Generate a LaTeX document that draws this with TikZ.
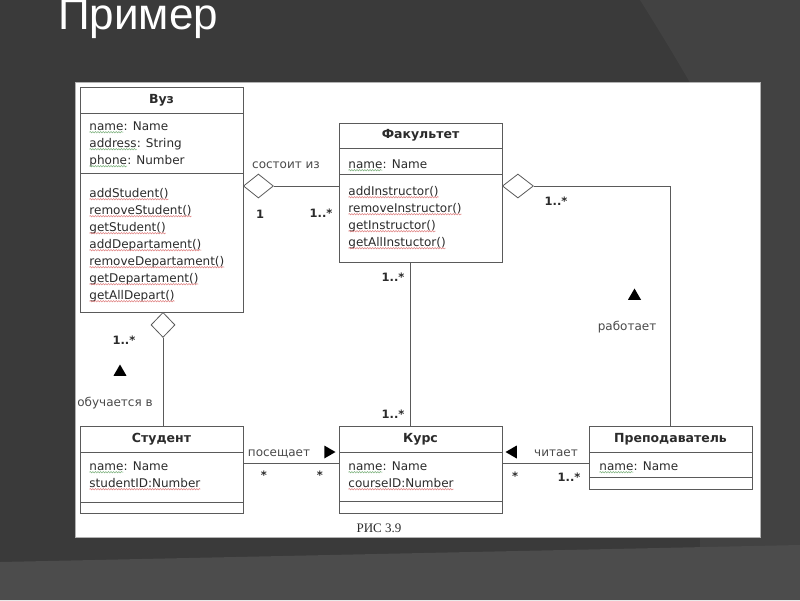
\documentclass[tikz,border=0pt]{standalone}
\usepackage{fontspec}
\setmainfont{DejaVu Sans}
\newfontfamily\titlefont{Liberation Sans}
\newfontfamily\capfont{Liberation Serif}
\usetikzlibrary{positioning, calc, shapes.geometric, decorations.pathmorphing}

\definecolor{slide}{HTML}{3A3A3A}
\definecolor{slidelight}{HTML}{424242}
\definecolor{slidelow}{HTML}{4C4C4C}
\definecolor{ink}{HTML}{2B2B2B}
\definecolor{linegray}{HTML}{5A5A5A}
\definecolor{labelgray}{HTML}{4A4A4A}
\definecolor{sqgreen}{HTML}{7AB07A}
\definecolor{sqred}{HTML}{E08080}

\tikzset{squiggle/.style={line width=0.5pt, decorate, decoration={snake, amplitude=0.7pt, segment length=2.6pt}}}
\newcommand\sqline[2]{\tikz[baseline=(w.base)]{\node[inner sep=0, outer sep=0] (w) {#2};
  \draw[squiggle, #1] ([yshift=-2.2pt]w.base west) -- ([yshift=-2.2pt]w.base east);}}
\newcommand\gsq[1]{\sqline{sqgreen}{#1}}
\newcommand\rsq[1]{\sqline{sqred}{#1}}

\begin{document}
\begin{tikzpicture}[x=1pt, y=-1pt, font=\fontsize{12}{14}\selectfont,
  cls/.style={draw=linegray, line width=0.8pt, fill=white, minimum width=163, inner sep=0, outer sep=0},
  clstitle/.style={cls, minimum height=26, text=ink, font=\fontsize{12.5}{14}\selectfont\bfseries},
  member/.style={anchor=base west, inner sep=0, text=ink},
  role/.style={inner sep=0, text=labelgray},
  mult/.style={inner sep=0, text=ink, font=\fontsize{11.5}{13}\selectfont\bfseries},
  agg/.style={diamond, draw=linegray, line width=0.8pt, fill=white, inner sep=0, minimum width=30, minimum height=24},
  dirmark/.style={regular polygon, regular polygon sides=3, fill=black, inner sep=0, minimum size=15},
  assoc/.style={draw=linegray, line width=0.8pt}]
  \useasboundingbox (0,0) rectangle (800,600);
  \clip (0,0) rectangle (800,600);
  % slide background
  \fill[slide] (0,0) rectangle (800,600);
  \fill[slidelight] (640,0) .. controls (662,35) and (680,65) .. (700,100) -- (700,560) -- (800,560) -- (800,0) -- cycle;
  \fill[slidelow] (0,562) -- (800,545) -- (800,600) -- (0,600) -- cycle;
  \node[anchor=base west, inner sep=0, text=white, font=\titlefont\fontsize{44}{44}\selectfont] (title) at (58,29) {Пример};
  \fill[white] (75,82) rectangle (760,537);
  \draw[gray!60, line width=0.8pt] (75,82) rectangle (760,537);

  % classes
  \node[clstitle] (vuz) at (161.5,100) {Вуз};
  \node[cls, minimum height=60, below=0pt of vuz] (vuzattr) {};
  \node[cls, minimum height=139, below=0pt of vuzattr] (vuzops) {};
  \foreach \m [count=\i] in {\gsq{name}: Name, \gsq{address}: String, \gsq{phone}: Number}
    \node[member] at ($(vuzattr.north west)+(9,17*\i)$) {\m};
  \foreach \m [count=\i] in {\rsq{addStudent()}, \rsq{removeStudent()}, \rsq{getStudent()},
      \rsq{addDepartament()}, \rsq{removeDepartament()}, \rsq{getDepartament()}, \rsq{getAllDepart()}}
    \node[member] at ($(vuzops.north west)+(9,7+17*\i)$) {\m};

  \node[clstitle, minimum height=25] (fak) at (420.5,135.5) {Факультет};
  \node[cls, minimum height=26, below=0pt of fak] (fakattr) {};
  \node[cls, minimum height=88, below=0pt of fakattr] (fakops) {};
  \node[member] at ($(fakattr.north west)+(9,20)$) {\gsq{name}: Name};
  \foreach \m [count=\i] in {\rsq{addInstructor()}, \rsq{removeInstructor()}, \rsq{getInstructor()}, \rsq{getAllInstuctor()}}
    \node[member] at ($(fakops.north west)+(9,4+17*\i)$) {\m};

  \node[clstitle] (stud) at (161.5,439) {Студент};
  \node[cls, minimum height=50, below=0pt of stud] (studattr) {};
  \node[cls, minimum height=11, below=0pt of studattr] (studops) {};
  \foreach \m [count=\i] in {\gsq{name}: Name, \rsq{studentID:Number}}
    \node[member] at ($(studattr.north west)+(9,1+17*\i)$) {\m};

  \node[clstitle] (kurs) at (420.5,439) {Курс};
  \node[cls, minimum height=49, below=0pt of kurs] (kursattr) {};
  \node[cls, minimum height=12, below=0pt of kursattr] (kursops) {};
  \foreach \m [count=\i] in {\gsq{name}: Name, \rsq{courseID:Number}}
    \node[member] at ($(kursattr.north west)+(9,1+17*\i)$) {\m};

  \node[clstitle] (prep) at (670.5,439) {Преподаватель};
  \node[cls, minimum height=25, below=0pt of prep] (prepattr) {};
  \node[cls, minimum height=12, below=0pt of prepattr] (prepops) {};
  \node[member] at ($(prepattr.north west)+(10,18)$) {\gsq{name}: Name};

  % associations
  \node[agg, anchor=west] (vuzfak) at ([yshift=-13pt]vuzops.north east) {};
  \draw[assoc] (vuzfak.east) -- (vuzfak.east -| fakops.west);
  \node[agg, minimum width=31, anchor=west] (fakprep) at ([yshift=-12pt]fakops.north east) {};
  \draw[assoc] (fakprep.east) -| (prep.north);
  \node[agg, minimum width=24, minimum height=25, anchor=north] (vuzstud) at ([xshift=1.5pt]vuzops.south) {};
  \draw[assoc] (vuzstud.south) -- (vuzstud.south |- stud.north);
  \draw[assoc] ([xshift=-10.5pt]fakops.south) -- ([xshift=-10.5pt]kurs.north);
  \draw[assoc] ([yshift=-11pt]studattr.north east) -- ([yshift=-11pt]kursattr.north west);
  \draw[assoc] ([yshift=-11pt]kursattr.north east) -- ([yshift=-11pt]prepattr.north west);

  % roles, multiplicities, reading directions
  \node[role] (consist) at (286,165) {состоит из};
  \node[mult] (m1) at (260,214) {1};
  \node[mult] (m2) at (321,213) {1..*};
  \node[mult] (m3) at (556,201) {1..*};
  \node[dirmark] (worksdir) at (634.5,296) {};
  \node[role] (works) at (627,327) {работает};
  \node[mult] (m4) at (124,340) {1..*};
  \node[dirmark] (studiesdir) at (120,372) {};
  \node[role] (studies) at (115,403) {обучается в};
  \node[role] (attends) at (279,454) {посещает};
  \node[dirmark, shape border rotate=-90] (attendsdir) at (328,452) {};
  \node[mult] (m5) at (264,475) {*};
  \node[mult] (m6) at (320,475) {*};
  \node[mult] (m7) at (393,277) {1..*};
  \node[mult] (m8) at (393,414) {1..*};
  \node[dirmark, shape border rotate=90] (readsdir) at (513,452) {};
  \node[role] (reads) at (556,453) {читает};
  \node[mult] (m9) at (515,476) {*};
  \node[mult] (m10) at (569,477) {1..*};
  \node[inner sep=0, text=ink, font=\capfont\fontsize{13}{15}\selectfont] (caption) at (379,528) {РИС 3.9};
\end{tikzpicture}
\end{document}
